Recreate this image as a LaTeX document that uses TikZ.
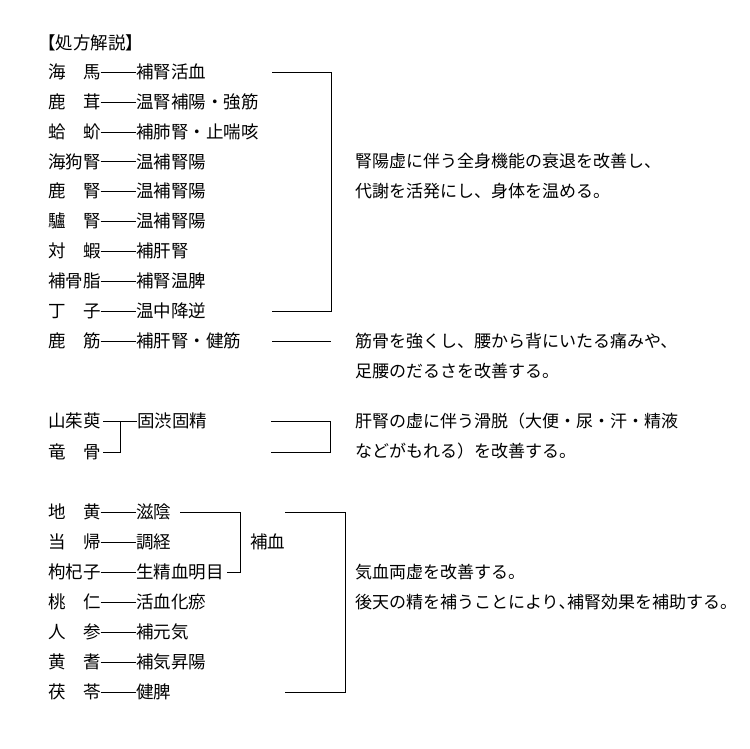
\documentclass[tikz,border=0pt]{standalone}
\usepackage{fontspec}
\newfontfamily\jp{Noto Sans CJK JP}
\begin{document}
\begin{tikzpicture}[x=1pt,y=-1pt,
  txt/.style={font=\jp\fontsize{17.5}{17.5}\selectfont, inner sep=0pt, outer sep=0pt, anchor=west, text height=15.4pt, text depth=2.1pt},
  desc/.style={font=\jp\fontsize{17}{17}\selectfont, inner sep=0pt, outer sep=0pt, anchor=west, text height=14.96pt, text depth=2.04pt},
  ln/.style={line width=0.75pt, black}]
\useasboundingbox[fill=white] (0,0) rectangle (750,748);

% title
\node[txt] (title) at (38,43) {【処方解説】};

% section 1
\foreach \i/\n/\v/\y in {1/海　馬/補腎活血/72, 2/鹿　茸/温腎補陽・強筋/102, 3/蛤　蚧/補肺腎・止喘咳/132,
  4/海狗腎/温補腎陽/161.5, 5/鹿　腎/温補腎陽/191, 6/驢　腎/温補腎陽/221, 7/対　蝦/補肝腎/251,
  8/補骨脂/補腎温脾/281, 9/丁　子/温中降逆/311, 10/鹿　筋/補肝腎・健筋/341} {
  \node[txt] (n\i) at (48,\y) {\n};
  \node[txt] (v\i) at (136,\y) {\v};
  \draw[ln] (n\i.east) -- (v\i.west);
}
\coordinate (a1) at (272,72);
\coordinate (a2) at (272,311);
\draw[ln] (a1) -- ++(59,0) |- (a2);
\coordinate (a3) at (272,341);
\coordinate (a4) at (331,341);
\draw[ln] (a3) -- (a4);

\node[desc] (t1) at (355,161.5) {腎陽虚に伴う全身機能の衰退を改善し、};
\node[desc] (t2) at (355,191) {代謝を活発にし、身体を温める。};
\node[desc] (t3) at (355,341) {筋骨を強くし、腰から背にいたる痛みや、};
\node[desc] (t4) at (355,371) {足腰のだるさを改善する。};

% section 2
\node[txt] (s1) at (48,421) {山茱萸};
\node[txt] (s2) at (48,452) {竜　骨};
\node[txt] (sv) at (137,421) {固渋固精};
\coordinate (sj) at (120,421);
\draw[ln] ([xshift=2.5pt]s1.east) -- (sv.west);
\draw[ln] (sj) |- ([xshift=2.5pt]s2.east);
\coordinate (b1) at (271,421);
\coordinate (b2) at (271,452);
\draw[ln] (b1) -- ++(59,0) |- (b2);
\node[desc] (t5) at (355,421) {肝腎の虚に伴う滑脱（大便・尿・汗・精液};
\node[desc] (t6) at (355,451) {などがもれる）を改善する。};

% section 3
\foreach \i/\n/\v/\y in {1/地　黄/滋陰/512, 2/当　帰/調経/542, 3/枸杞子/生精血明目/572,
  4/桃　仁/活血化瘀/602, 5/人　参/補元気/632, 6/黄　耆/補気昇陽/662, 7/茯　苓/健脾/692} {
  \node[txt] (m\i) at (48,\y) {\n};
  \node[txt] (w\i) at (136,\y) {\v};
  \draw[ln] (m\i.east) -- (w\i.west);
}
\coordinate (c1) at (180,512);
\draw[ln] (c1) -- (240,512) |- ([xshift=3pt]w3.east);
\node[txt] (hoketsu) at (250,542) {補血};
\coordinate (d1) at (285,512);
\coordinate (d2) at (285,692);
\draw[ln] (d1) -- ++(60,0) |- (d2);
\node[desc] (t7) at (355,572) {気血両虚を改善する。};
\node[desc] (t8) at (355,602) {後天の精を補うことにより\makebox[0.5em][l]{、}補腎効果を補助する。};
\end{tikzpicture}
\end{document}
